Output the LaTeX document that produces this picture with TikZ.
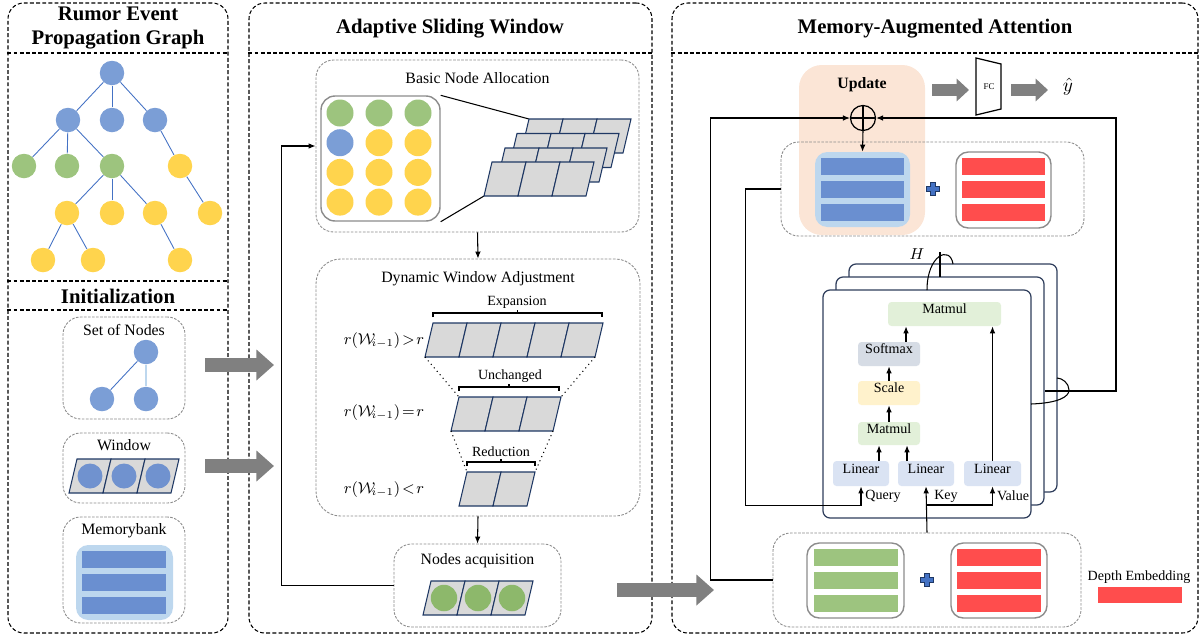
\documentclass[tikz,border=0pt]{standalone}
\usepackage{amsmath}
\usepackage{fontspec}
\setmainfont{Liberation Serif}
\usetikzlibrary{positioning,fit,calc,arrows.meta}

\definecolor{treeblue}{RGB}{123,158,214}
\definecolor{treegreen}{RGB}{157,196,126}
\definecolor{treeyellow}{RGB}{255,212,77}
\definecolor{edgeblue}{RGB}{68,114,196}
\definecolor{winblue}{RGB}{112,146,207}
\definecolor{cellgray}{RGB}{217,217,217}
\definecolor{celledge}{RGB}{31,56,100}
\definecolor{barblue}{RGB}{106,143,208}
\definecolor{bankblue}{RGB}{189,215,238}
\definecolor{barred}{RGB}{255,77,77}
\definecolor{bargreen}{RGB}{157,196,127}
\definecolor{acqgreen}{RGB}{141,184,107}
\definecolor{peach}{RGB}{251,229,214}
\definecolor{headedge}{RGB}{47,62,92}
\definecolor{mmgreen}{RGB}{226,240,217}
\definecolor{softgray}{RGB}{214,220,229}
\definecolor{scaleyellow}{RGB}{255,242,204}
\definecolor{linblue}{RGB}{218,227,243}
\definecolor{arrowgray}{RGB}{128,128,128}
\definecolor{boxgray}{RGB}{140,140,140}
\definecolor{plusblue}{RGB}{68,114,196}

% one row of slanted window cells: #1 top-left corner, #2 number of cells
\newcommand{\winstrip}[2]{%
  \foreach \k in {1,...,#2}
    \draw[cell] #1 ++({(\k-1)*34},0) -- ++(34,0) -- ++(-8,34) -- ++(-34,0) -- cycle;}

% three embedding bars: #1/#2 left/right x, #3 top y, #4 colour
\newcommand{\barstack}[4]{%
  \foreach \j in {0,1,2}
    \fill[#4] (#1,{#3+\j*23}) rectangle (#2,{#3+\j*23+17});}

% bracket above a window: #1/#2 x range, #3 y
\newcommand{\spanbrace}[3]{%
  \draw[line width=0.6pt] (#1,#3+4) -- (#1,#3) -- (#2,#3) -- (#2,#3+4)
    ({(#1+#2)/2},#3) -- ({(#1+#2)/2},#3-3);}

% window size condition
\newcommand{\wcond}[1]{$r(\mathcal{W}_{\!i-1})\!#1\!r$}

\begin{document}
\begin{tikzpicture}[
        x=0.02cm, y=-0.02cm,
        panel/.style={
            draw=black,
            dash pattern=on 2.2pt off 1.3pt,
            line width=0.6pt,
            rounded corners=9pt,
            inner sep=0pt
        },
        divider/.style={
            draw=black,
            dash pattern=on 2.2pt off 1.3pt,
            line width=0.6pt
        },
        subbox/.style={
            draw=boxgray,
            dash pattern=on 1.5pt off 0.8pt,
            line width=0.5pt,
            rounded corners=10pt,
            inner sep=0pt
        },
        stackbox/.style={
            draw=boxgray,
            line width=0.8pt,
            rounded corners=7pt,
            fill=white,
            inner sep=0pt
        },
        bank/.style={
            fill=bankblue,
            rounded corners=7pt,
            inner sep=0pt
        },
        title/.style={
            font=\fontsize{11.8}{14.2}\selectfont\bfseries,
            align=center
        },
        lbl/.style={font=\fontsize{9}{11}\selectfont},
        small/.style={font=\fontsize{8}{9}\selectfont},
        cond/.style={font=\fontsize{8.8}{10}\selectfont},
        gdot/.style={
            circle,
            inner sep=0pt,
            minimum size=0.49cm,
            fill=#1
        },
        tedge/.style={draw=edgeblue, line width=0.5pt},
        cell/.style={fill=cellgray, draw=celledge, line width=0.6pt},
        funnel/.style={dotted, line width=0.6pt},
        flow/.style={
            -{Latex[length=4pt,width=3.2pt]},
            line width=0.6pt
        },
        bigarrow/.style={
            draw=arrowgray,
            line width=8.5pt,
            -{Triangle[length=10pt,width=17pt]}
        },
        midarrow/.style={
            draw=arrowgray,
            line width=6.8pt,
            -{Triangle[length=7pt,width=12.5pt]}
        },
        frame/.style={
            draw=headedge,
            fill=white,
            line width=0.7pt,
            rounded corners=4pt,
            inner sep=0pt
        },
        opbox/.style={
            rounded corners=2pt,
            inner sep=0pt,
            font=\fontsize{8}{9}\selectfont,
            fill=#1
        },
        bplus/.pic={
            \filldraw[fill=plusblue, draw=celledge, line width=0.4pt]
              (-2.2,-6.5) -- (2.2,-6.5) -- (2.2,-2.2) -- (6.5,-2.2) -- (6.5,2.2) -- (2.2,2.2)
              -- (2.2,6.5) -- (-2.2,6.5) -- (-2.2,2.2) -- (-6.5,2.2) -- (-6.5,-2.2) -- (-2.2,-2.2) -- cycle;
        }
    ]
    \useasboundingbox (0,0) rectangle (1202,640);

    % three panels with their title bars
    \node[panel, fit={(8,3)(228,633)}] (lpanel) {};
    \node[panel, fit={(249,3)(652,633)}] (mpanel) {};
    \node[panel, fit={(672,3)(1198,633)}] (rpanel) {};
    \draw[divider] (lpanel.west |- 0,53) -- (lpanel.east |- 0,53);
    \draw[divider] (lpanel.west |- 0,281) -- (lpanel.east |- 0,281);
    \draw[divider] (lpanel.west |- 0,310) -- (lpanel.east |- 0,310);
    \draw[divider] (mpanel.west |- 0,53) -- (mpanel.east |- 0,53);
    \draw[divider] (rpanel.west |- 0,53) -- (rpanel.east |- 0,53);

    \node[title] at (118,28) {Rumor Event\\Propagation Graph};
    \node[title] at (118,296) {Initialization};
    \node[title] at (450,29) {Adaptive Sliding Window};
    \node[title] at (935,29) {Memory-Augmented Attention};

    % propagation tree
    \node[gdot=treeblue] (r) at (112,73) {};
    \node[gdot=treeblue] (a1) at (68,120) {};
    \node[gdot=treeblue] (a2) at (112,120) {};
    \node[gdot=treeblue] (a3) at (155,120) {};
    \node[gdot=treegreen] (b1) at (24,166) {};
    \node[gdot=treegreen] (b2) at (67,166) {};
    \node[gdot=treegreen] (b3) at (112,166) {};
    \node[gdot=treeyellow] (b4) at (180,166) {};
    \node[gdot=treeyellow] (c1) at (67,213) {};
    \node[gdot=treeyellow] (c2) at (112,213) {};
    \node[gdot=treeyellow] (c3) at (155,213) {};
    \node[gdot=treeyellow] (c4) at (210,213) {};
    \node[gdot=treeyellow] (d1) at (43,260) {};
    \node[gdot=treeyellow] (d2) at (93,260) {};
    \node[gdot=treeyellow] (d3) at (180,260) {};
    \foreach \u/\v in {r/a1, r/a2, r/a3, a1/b1, a1/b2, a1/b3, a3/b4,
                       b3/c1, b3/c2, b3/c3, b4/c4, c1/d1, c1/d2, c3/d3}
        \draw[tedge] (\u) -- (\v);

    % initialization inputs
    \node[subbox, fit={(63,317)(185,419)}] (setbox) {};
    \node[lbl, below=1pt of setbox.north] {Set of Nodes};
    \node[gdot=treeblue] (s1) at (146,352) {};
    \node[gdot=treeblue] (s2) at (102,399) {};
    \node[gdot=treeblue] (s3) at (146,399) {};
    \draw[tedge] (s1) -- (s2);
    \draw[tedge, draw=bankblue, line width=1.5pt] (s1) -- (s3);

    \node[subbox, fit={(63,433)(185,503)}] (winbox) {};
    \node[lbl, below=0.5pt of winbox.north] {Window};
    \winstrip{(77,459)}{3}
    \foreach \cx in {90,124,158}
        \node[gdot=winblue, minimum size=0.5cm] at (\cx,476) {};

    \node[subbox, fit={(63,517)(185,623)}] (bankbox) {};
    \node[lbl, below=0.5pt of bankbox.north] {Memorybank};
    \node[bank, fit={(76,545)(173,620)}] (bank) {};
    \barstack{82}{166}{551}{barblue}

    % gray transfer arrows between panels
    \coordinate (init1) at (205,365);
    \coordinate (asw1) at (274,365);
    \coordinate (init2) at (205,466);
    \coordinate (asw2) at (274,466);
    \coordinate (acqout) at (617,590);
    \coordinate (maain) at (714,590);
    \draw[bigarrow] (init1) -- (asw1);
    \draw[bigarrow] (init2) -- (asw2);
    \draw[bigarrow] (acqout) -- (maain);

    % basic node allocation
    \node[subbox, fit={(316,60)(639,232)}] (basic) {};
    \node[lbl, below=4pt of basic.north] {Basic Node Allocation};
    \node[stackbox, draw=gray!90, rounded corners=8pt, fit={(321,96)(440,221)}] (grid) {};
    \foreach \clr [count=\i from 0] in {treegreen,treegreen,treegreen,treeblue,treeyellow,treeyellow,
                                        treeyellow,treeyellow,treeyellow,treeyellow,treeyellow,treeyellow}
        \node[gdot=\clr, minimum size=0.54cm] (g\i) at ({340+mod(\i,3)*39},{113+int(\i/3)*29.7}) {};
    \coordinate (stacktop) at (529,119);
    \coordinate (stackbot) at (484,196);
    \draw[line width=0.6pt] (grid.north east) -- (stacktop);
    \draw[line width=0.6pt] (grid.south east) -- (stackbot);
    \winstrip{(529,119)}{3}
    \winstrip{(517,133.5)}{3}
    \winstrip{(505,148)}{3}
    \winstrip{(492,162)}{3}

    % dynamic window adjustment
    \node[subbox, rounded corners=14pt, fit={(316,259)(640,516)}] (dyn) {};
    \node[lbl, below=4pt of dyn.north] {Dynamic Window Adjustment};
    \spanbrace{433}{602}{313}
    \node[small] at (517,302) {Expansion};
    \winstrip{(433,323)}{5}
    \spanbrace{459}{559}{387}
    \node[small] at (510,376) {Unchanged};
    \winstrip{(459,397)}{3}
    \spanbrace{467}{535}{462}
    \node[small] at (501,452) {Reduction};
    \winstrip{(467,472)}{2}
    \draw[funnel] (425,357) -- (459,397) (595,357) -- (561,397);
    \draw[funnel] (451,431) -- (467,472) (553,431) -- (535,472);
    \node[cond] at (384,341) {\wcond{>}};
    \node[cond] at (384,413) {\wcond{=}};
    \node[cond] at (384,490) {\wcond{<}};

    % nodes acquisition
    \node[subbox, fit={(394,544)(561,627)}] (acq) {};
    \node[lbl, below=2pt of acq.north] {Nodes acquisition};
    \winstrip{(431,581)}{3}
    \foreach \cx in {444,478,512}
        \node[gdot=acqgreen, minimum size=0.53cm] at (\cx,598) {};

    \draw[flow] (basic.south) -- (dyn.north);
    \draw[flow] (dyn.south) -- (acq.north);
    \draw[flow] (acq.west) -- ++(-112,0) |- (basic.west);

    % memory-augmented attention: memory update
    \node[fill=peach, rounded corners=13pt, inner sep=0pt, fit={(799,65)(925,235)}] (upd) {};
    \node[font=\fontsize{9}{11}\selectfont\bfseries, below=4pt of upd.north] {Update};
    \node[subbox, fit={(781,142)(1084,236)}] (membox) {};
    \node[bank, fit={(815,152)(910,227)}] (mem) {};
    \barstack{821}{904}{158}{barblue}
    \pic at (933,189) {bplus};
    \node[stackbox, fit={(956,152)(1051,228)}] (memdepth) {};
    \barstack{962}{1045}{158}{barred}

    \node[circle, draw, line width=0.7pt, minimum size=0.5cm, inner sep=0pt] (oplus) at (863,118) {};
    \draw[line width=0.7pt] (oplus.north) -- (oplus.south) (oplus.west) -- (oplus.east);
    \draw[flow] (oplus.south) -- (mem.north);

    % classifier head
    \draw[line width=0.7pt] (976,58) -- (1001,64) -- (1001,109) -- (976,115) -- cycle;
    \node[font=\fontsize{5}{6}\selectfont] (fc) at (989,87) {FC};
    \coordinate (updout) at (932,90);
    \coordinate (fcin) at (969,90);
    \coordinate (fcout) at (1011,90);
    \coordinate (predin) at (1048,90);
    \draw[midarrow] (updout) -- (fcin);
    \draw[midarrow] (fcout) -- (predin);
    \node[font=\fontsize{11}{13}\selectfont] (pred) at (1068,87) {$\hat{y}$};

    % multi-head attention block
    \draw[frame] (849,264) rectangle (1057,492);
    \draw[frame] (836,277) rectangle (1044,505);
    \node[frame, fit={(823,290)(1031,518)}] (head) {};
    \node[opbox=mmgreen, fit={(888,302)(1001,326)}] (mm2) {Matmul};
    \node[opbox=softgray, fit={(858,342)(920,366)}] (soft) {Softmax};
    \node[opbox=scaleyellow, fit={(858,381)(920,405)}] (scale) {Scale};
    \node[opbox=mmgreen, fit={(858,422)(920,445)}] (mm1) {Matmul};
    \node[opbox=linblue, fit={(833,461)(889,486)}] (lin1) {Linear};
    \node[opbox=linblue, fit={(898,461)(954,486)}] (lin2) {Linear};
    \node[opbox=linblue, fit={(964,461)(1021,486)}] (lin3) {Linear};
    \draw[flow] (lin1.north -| 879,0) -- (mm1.south -| 879,0);
    \draw[flow] (lin2.north -| 907,0) -- (mm1.south -| 907,0);
    \draw[flow] (mm1) -- (scale);
    \draw[flow] (scale) -- (soft);
    \draw[flow] (soft.north -| 906,0) -- (mm2.south -| 906,0);
    \draw[flow] (lin3) -- (lin3 |- mm2.south);
    \node[small] at (883,496) {Query};
    \node[small] at (946,496) {Key};
    \node[small] at (1013,496) {Value};

    % head count and concatenation marks
    \draw[line width=0.6pt] (927,290) .. controls (927,255) and (950,245) .. (953,264);
    \draw[line width=0.6pt] (940,252) -- (940,277);
    \node[font=\fontsize{9}{11}\selectfont] at (917,254) {$H$};
    \draw[line width=0.6pt] (1031,404) .. controls (1058,403) and (1069,397) .. (1069,390)
        .. controls (1069,383) and (1062,378) .. (1057,378);
    \coordinate (cat) at (1045,391);

    % node and depth embeddings
    \node[subbox, fit={(773,533)(1081,627)}] (embbox) {};
    \node[stackbox, fit={(807,543)(904,618)}] (nodeemb) {};
    \barstack{814}{898}{549}{bargreen}
    \pic at (927,580) {bplus};
    \node[stackbox, fit={(951,543)(1047,618)}] (depthemb) {};
    \barstack{957}{1041}{549}{barred}
    \node[small] (depthlbl) at (1139,577) {Depth Embedding};
    \fill[barred] (1098,587) rectangle (1182,603);

    % attention wiring
    \draw[flow] (membox.west) -- ++(-35,0) |- ($(lin1.south)+(0,19)$) -- (lin1.south);
    \draw[flow] (embbox.north) -- (lin2.south);
    \draw[flow] (embbox.north |- 0,505) -| (lin3.south);
    \draw[flow] (embbox.west) -- ++(-62,0) |- (oplus.west);
    \draw[flow] (cat) -- ++(71,0) |- (oplus.east);

\end{tikzpicture}
\end{document}
